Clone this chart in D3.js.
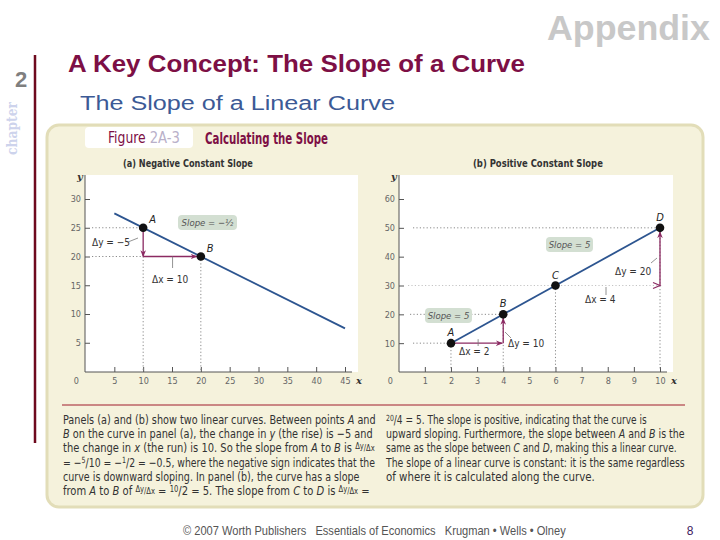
<!DOCTYPE html>
<html><head><meta charset="utf-8">
<script src="https://cdn.jsdelivr.net/npm/d3@7"></script>
<style>body{margin:0;background:#fff}svg{display:block}</style>
</head><body>
<svg id="c" width="720" height="540"></svg>
<script>
// ---- data ----
const ticksAx = [5, 10, 15, 20, 25, 30, 35, 40, 45];
const ticksAy = [5, 10, 15, 20, 25, 30];
const ticksBx = [1, 2, 3, 4, 5, 6, 7, 8, 9, 10];
const ticksBy = [10, 20, 30, 40, 50, 60];
const lineA = [{x: 5, y: 27.5}, {x: 45, y: 7.5}];
const pointsA = [{n: "A", x: 10, y: 25}, {n: "B", x: 20, y: 20}];
const lineB = [{x: 2, y: 10}, {x: 10, y: 50}];
const pointsB = [{n: "A", x: 2, y: 10}, {n: "B", x: 4, y: 20}, {n: "C", x: 6, y: 30}, {n: "D", x: 10, y: 50}];
const captionLeft = [
  [["Panels (a) and (b) show two linear curves. Between points "],["A","i"],[" and"]],
  [["B","i"],[" on the curve in panel (a), the change in "],["y","i"],[" (the rise) is \u22125 and"]],
  [["the change in "],["x","i"],[" (the run) is 10. So the slope from "],["A","i"],[" to "],["B","i"],[" is "],["\u0394y","sup"],["/\u0394x","sm"]],
  [["= \u2212"],["5","sup"],["/10 = \u2212"],["1","sup"],["/2 = \u22120.5, where the negative sign indicates that the"]],
  [["curve is downward sloping. In panel (b), the curve has a slope"]],
  [["from "],["A","i"],[" to "],["B","i"],[" of "],["\u0394y","sup"],["/\u0394x","sm"],[" = "],["10","sup"],["/2 = 5. The slope from "],["C","i"],[" to "],["D","i"],[" is "],["\u0394y","sup"],["/\u0394x","sm"],[" ="]]
];
const captionRight = [
  [["20","sup"],["/4 = 5. The slope is positive, indicating that the curve is"]],
  [["upward sloping. Furthermore, the slope between "],["A","i"],[" and "],["B","i"],[" is the"]],
  [["same as the slope between "],["C","i"],[" and "],["D","i"],[", making this a linear curve."]],
  [["The slope of a linear curve is constant: it is the same regardless"]],
  [["of where it is calculated along the curve."]]
];

const svg = d3.select("#c");
const NARROW = "'DejaVu Sans Condensed','Liberation Sans Narrow',sans-serif";
const SANS = "'Liberation Sans',Arial,sans-serif";
const MAG = "#8b2a62", BLUE = "#2d5590", DOT = "#8a8a8a";

// scale a text horizontally so that it spans `w` pixels starting at (x0, y0)
function fit(sel, x0, y0, w, anchor) {
  sel.attr("x", 0).attr("y", 0);
  const cw = sel.node().getComputedTextLength();
  const s = w / cw;
  const tx = anchor === "end" ? x0 - w : anchor === "middle" ? x0 - w / 2 : x0;
  sel.attr("text-anchor", "start").attr("transform", `translate(${tx},${y0}) scale(${s},1)`);
  return sel;
}

// header
fit(svg.append("text").attr("font-family", SANS).attr("font-weight", "bold").attr("font-size", 36)
  .attr("fill", "#c8c8c8").text("Appendix"), 547, 40, 163);
fit(svg.append("text").attr("font-family", SANS).attr("font-weight", "bold").attr("font-size", 23)
  .attr("fill", "#7d0f45").text("A Key Concept: The Slope of a Curve"), 68, 72, 457);
fit(svg.append("text").attr("font-family", SANS).attr("font-size", 20)
  .attr("fill", "#3c5a96").text("The Slope of a Linear Curve"), 80, 110, 315);
svg.append("text").attr("x", 15).attr("y", 87).attr("font-family", SANS).attr("font-weight", "bold")
  .attr("font-size", 22).attr("fill", "#7f7f7f").text("2");
svg.append("text").attr("transform", "translate(17,155) rotate(-90)").attr("text-anchor", "start")
  .attr("font-family", "'DejaVu Serif',serif").attr("font-weight", "bold").attr("font-size", 14)
  .attr("textLength", 53).attr("lengthAdjust", "spacingAndGlyphs")
  .attr("fill", "#cdd3ec").text("chapter");
svg.append("line").attr("x1", 35).attr("x2", 35).attr("y1", 55).attr("y2", 443)
  .attr("stroke", "#6e0a1e").attr("stroke-width", 2.5);

// beige panel
svg.append("rect").attr("x", 47).attr("y", 125).attr("width", 656).attr("height", 382).attr("rx", 12)
  .attr("fill", "#f5f2dc").attr("stroke", "#e2ddb8").attr("stroke-width", 3);
svg.append("rect").attr("x", 85).attr("y", 127).attr("width", 108).attr("height", 21).attr("rx", 4).attr("fill", "#fff");
const fig = svg.append("text").attr("font-family", NARROW).attr("font-size", 15);
fig.append("tspan").attr("fill", "#7d0f45").text("Figure ");
fig.append("tspan").attr("fill", "#b9b0c9").attr("font-size", 16).text("2A-3");
fit(fig, 108, 143, 72);
fit(svg.append("text").attr("font-family", NARROW).attr("font-weight", "bold")
  .attr("font-size", 15).attr("fill", "#7d0f45").text("Calculating the Slope"), 205, 144, 123);

// markers
const defs = svg.append("defs");
defs.append("marker").attr("id", "ah").attr("viewBox", "0 0 10 10").attr("refX", 9).attr("refY", 5)
  .attr("markerWidth", 7).attr("markerHeight", 7).attr("orient", "auto-start-reverse").attr("markerUnits", "userSpaceOnUse")
  .append("path").attr("d", "M0,1 L10,5 L0,9 L3,5 Z").attr("fill", MAG);

function panel(o) {
  const g = svg.append("g");
  g.append("rect").attr("x", o.left).attr("y", 175).attr("width", o.right - o.left).attr("height", 372 - 175).attr("fill", "#fff");
  fit(g.append("text").attr("font-family", NARROW)
    .attr("font-weight", "bold").attr("font-size", 10).attr("fill", "#333").text(o.title), o.cx, 167, 130, "middle");
  const x = o.x, y = o.y;
  const ax = g.append("g").attr("transform", "translate(0,372)")
    .call(d3.axisBottom(x).tickValues(o.tx).tickSize(-5).tickSizeOuter(0).tickPadding(6));
  const ay = g.append("g").attr("transform", `translate(${o.left},0)`)
    .call(d3.axisLeft(y).tickValues(o.ty).tickSize(-5).tickSizeOuter(0).tickPadding(4));
  [ax, ay].forEach(a => {
    a.select(".domain").remove();
    a.selectAll("line").attr("stroke", "#555");
    a.selectAll("text").attr("font-family", NARROW).attr("font-size", 9).attr("fill", "#666");
  });
  g.append("line").attr("x1", o.left).attr("x2", o.axEnd).attr("y1", 372).attr("y2", 372).attr("stroke", "#555");
  g.append("line").attr("x1", o.left).attr("x2", o.left).attr("y1", 372).attr("y2", 175).attr("stroke", "#555");
  g.append("text").attr("x", o.left - 6).attr("y", 384).attr("text-anchor", "end").attr("font-family", NARROW)
    .attr("font-size", 9).attr("fill", "#666").text("0");
  g.append("text").attr("x", o.axEnd + 4).attr("y", 384).attr("font-family", "'DejaVu Serif',serif").attr("font-style", "italic")
    .attr("font-weight", "bold").attr("font-size", 10).attr("fill", "#333").text("x");
  g.append("text").attr("x", o.left - 8).attr("y", 180).attr("font-family", "'DejaVu Serif',serif").attr("font-style", "italic")
    .attr("font-weight", "bold").attr("font-size", 10).attr("fill", "#333").text("y");
  return g;
}
function dotted(g, x1, y1, x2, y2, op) {
  g.append("line").attr("x1", x1).attr("y1", y1).attr("x2", x2).attr("y2", y2)
    .attr("stroke", DOT).attr("stroke-width", 1).attr("stroke-dasharray", "1.2,2.2").attr("opacity", op || 1);
}
function arrow(g, x1, y1, x2, y2) {
  g.append("line").attr("x1", x1).attr("y1", y1).attr("x2", x2).attr("y2", y2)
    .attr("stroke", MAG).attr("stroke-width", 1.3).attr("marker-end", "url(#ah)");
}
function label(g, x0, y0, t, anchor) {
  g.append("text").attr("x", x0).attr("y", y0).attr("text-anchor", anchor || "start").attr("font-family", NARROW)
    .attr("font-size", 10).attr("fill", "#333").text(t);
}
function leader(g, x1, y1, x2, y2) {
  g.append("line").attr("x1", x1).attr("y1", y1).attr("x2", x2).attr("y2", y2).attr("stroke", "#777").attr("stroke-width", 0.8);
}
function slopeBox(g, x0, y0, w, t) {
  g.append("rect").attr("x", x0).attr("y", y0).attr("width", w).attr("height", 15).attr("rx", 4).attr("fill", "#d3dfd2");
  g.append("text").attr("x", x0 + w / 2).attr("y", y0 + 11).attr("text-anchor", "middle").attr("font-family", NARROW)
    .attr("font-style", "italic").attr("font-size", 9.5).attr("fill", "#555").text(t);
}
function curve(g, x, y, data) {
  g.append("path").datum(data).attr("d", d3.line().x(d => x(d.x)).y(d => y(d.y)))
    .attr("stroke", BLUE).attr("stroke-width", 1.8).attr("fill", "none");
}
function pts(g, x, y, data, off) {
  g.selectAll("circle.p" + off.k).data(data).join("circle").attr("cx", d => x(d.x)).attr("cy", d => y(d.y))
    .attr("r", 4.3).attr("fill", "#111");
  g.selectAll("text.p" + off.k).data(data).join("text").attr("x", d => x(d.x) + off.dx).attr("y", d => y(d.y) + off.dy)
    .attr("text-anchor", off.anchor).attr("font-family", NARROW).attr("font-style", "italic").attr("font-size", 11)
    .attr("fill", "#222").text(d => d.n);
}

// ---- panel (a) ----
const xA = d3.scaleLinear().domain([0, 45]).range([85.5, 345]);
const yA = d3.scaleLinear().domain([0, 30]).range([371.5, 199]);
const gA = panel({left: 85, right: 358, axEnd: 352, cx: 188, title: "(a) Negative Constant Slope", x: xA, y: yA, tx: ticksAx, ty: ticksAy});
{
  const a = pointsA[0], b = pointsA[1];
  dotted(gA, 92, yA(a.y), xA(a.x), yA(a.y));
  dotted(gA, 92, yA(b.y), xA(a.x), yA(b.y));
  dotted(gA, xA(a.x), yA(b.y), xA(a.x), 370);
  dotted(gA, xA(b.x), yA(b.y), xA(b.x), 370);
  curve(gA, xA, yA, lineA);
  arrow(gA, xA(a.x), yA(a.y), xA(a.x), yA(b.y));
  arrow(gA, xA(a.x), yA(b.y), xA(b.x) - 4, yA(b.y));
  label(gA, 92, 246, "\u0394y = \u22125");
  leader(gA, 128, 242, 138, 238);
  label(gA, 152, 283, "\u0394x = 10");
  leader(gA, xA(15.1), yA(b.y), xA(15.1), 268);
  slopeBox(gA, 178, 215, 59, "Slope = \u2212\u00bd");
  pts(gA, xA, yA, pointsA, {k: "a", dx: 6, dy: -5, anchor: "start"});
}

// ---- panel (b) ----
const xB = d3.scaleLinear().domain([0, 10]).range([398.7, 660]);
const yB = d3.scaleLinear().domain([0, 60]).range([372, 199]);
const gB = panel({left: 399, right: 673, axEnd: 667, cx: 538, title: "(b) Positive Constant Slope", x: xB, y: yB, tx: ticksBx, ty: ticksBy});
{
  const [a, b, c, d] = pointsB;
  dotted(gB, 413, yB(a.y), xB(a.x), yB(a.y));
  dotted(gB, 410, yB(b.y), xB(b.x), yB(b.y));
  dotted(gB, 408, yB(c.y), xB(d.x), yB(c.y), 0.5);
  dotted(gB, 413, yB(d.y), xB(d.x), yB(d.y));
  pointsB.forEach(p => dotted(gB, xB(p.x), yB(p.y), xB(p.x), 370));
  curve(gB, xB, yB, lineB);
  arrow(gB, xB(a.x), yB(a.y), xB(b.x) - 1, yB(a.y));
  arrow(gB, xB(b.x), yB(a.y), xB(b.x), yB(b.y) + 4);
  gB.append("path").attr("d", `M${xB(d.x) - 7},${yB(c.y) - 3} L${xB(d.x)},${yB(c.y)} L${xB(d.x) - 7},${yB(c.y) + 3}`)
    .attr("fill", "none").attr("stroke", MAG).attr("stroke-width", 1.2);
  arrow(gB, xB(d.x), yB(c.y), xB(d.x), yB(d.y) + 4);
  label(gB, 459, 355, "\u0394x = 2");
  leader(gB, xB(3.04), yB(a.y) - 4, xB(3.04), 346);
  label(gB, 508, 347, "\u0394y = 10");
  leader(gB, 505, 332, 511, 338);
  label(gB, 585, 303, "\u0394x = 4");
  leader(gB, 606, 287, 606, 295);
  label(gB, 615, 275, "\u0394y = 20");
  leader(gB, 651, 263, 657, 258);
  slopeBox(gB, 546, 237, 47, "Slope = 5");
  slopeBox(gB, 425, 308, 47, "Slope = 5");
  pts(gB, xB, yB, pointsB, {k: "b", dx: 0, dy: -7, anchor: "middle"});
}

// ---- caption ----
svg.append("line").attr("x1", 62).attr("x2", 685).attr("y1", 405).attr("y2", 405).attr("stroke", "#a01c2c").attr("stroke-width", 1);
function caption(lines, x0, ends) {
  lines.forEach((segs, i) => {
    const t = svg.append("text").attr("font-family", NARROW).attr("font-size", 12.5).attr("fill", "#333");
    segs.forEach(([s, k]) => {
      const sp = t.append("tspan").text(s);
      if (k === "i") sp.attr("font-style", "italic");
      if (k === "sup") sp.attr("font-size", 8.5).attr("baseline-shift", "3");
      if (k === "sm") sp.attr("font-size", 8.5).attr("baseline-shift", "1.5");
    });
    fit(t, x0, 424 + i * 14.2, ends[i] - x0);
  });
}
caption(captionLeft, 63, [376, 373, 375, 375, 360, 370]);
caption(captionRight, 386, [647, 685, 677, 685, 595]);

// footer
fit(svg.append("text").attr("font-family", SANS).attr("font-size", 12).attr("fill", "#555")
  .style("white-space", "pre")
  .text("\u00a9 2007 Worth Publishers   Essentials of Economics   Krugman \u2022 Wells \u2022 Olney"), 183, 535, 383);
svg.append("text").attr("x", 690).attr("y", 535).attr("text-anchor", "middle").attr("font-family", SANS)
  .attr("font-size", 12).attr("fill", "#402060").text("8");
</script>
</body></html>
